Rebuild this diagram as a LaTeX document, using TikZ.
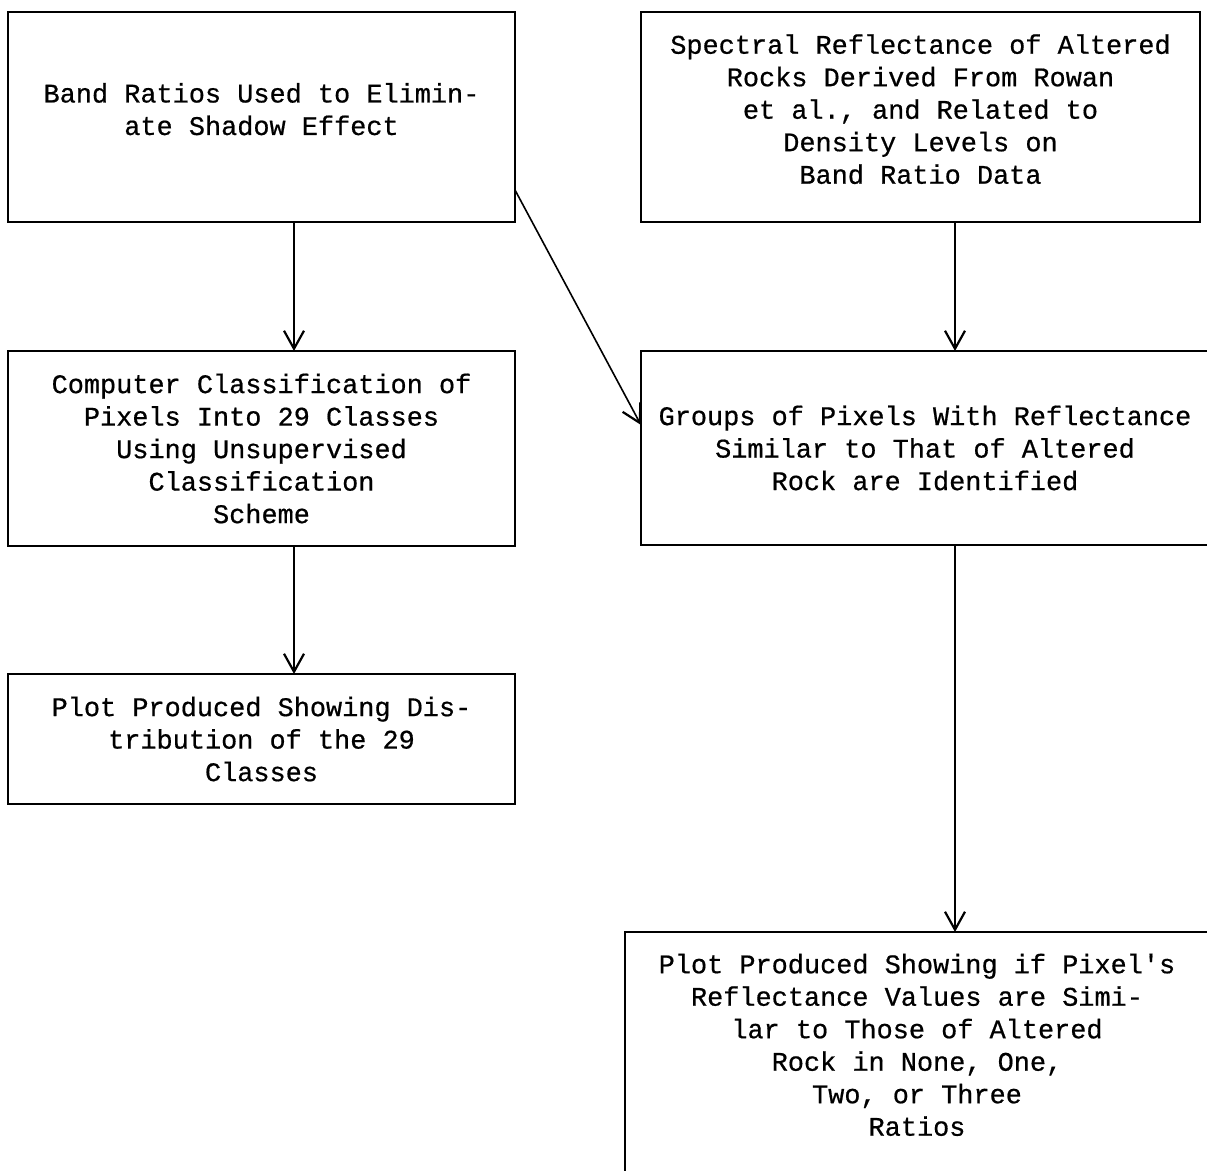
\documentclass[tikz,border=0pt]{standalone}
\usepackage{fontspec}
\newfontfamily\typewr[FakeBold=0.6]{Liberation Mono}
\usetikzlibrary{positioning,calc,arrows.meta}
\tikzset{
  flowpic/.style={
    x=0.5pt,y=-0.5pt
    ,inner sep=0pt
    ,outer sep=0pt
  }
  ,procbox/.style={draw=black,line width=1pt
    ,align=center
    ,font=\fontsize{13.45pt}{16.25pt}\selectfont\typewr
  }
  ,flow/.style={line width=.8pt
    ,-{Straight Barb[length=9pt,width=10pt,line width=1.1pt]}
  }
}

\begin{document}
\begin{tikzpicture}[flowpic]
  \clip (0,0) rectangle (1207,1171);
  % left column
  \node[procbox,minimum width=253.5pt,minimum height=105pt] (band) at (261.5,117)
    {Band Ratios Used to Elimin-\\ate Shadow Effect\\[-8.25pt]\mbox{}};
  \node[procbox,minimum width=253.5pt,minimum height=97.5pt] (comp) at (261.5,448.5)
    {Computer Classification of\\Pixels Into 29 Classes\\Using Unsupervised\\Classification\\Scheme};
  \node[procbox,minimum width=253.5pt,minimum height=65pt] (plotl) at (261.5,739)
    {Plot Produced Showing Dis-\\tribution of the 29\\Classes};
  % right column
  \node[procbox,minimum width=279.5pt,minimum height=105pt] (spec) at (920.5,117)
    {Spectral Reflectance of Altered\\Rocks Derived From Rowan\\et al., and Related to\\Density Levels on\\Band Ratio Data\\[-8.25pt]\mbox{}};
  \node[procbox,minimum width=284pt,minimum height=97pt] (groups) at (925,448)
    {Groups of Pixels With Reflectance\\Similar to That of Altered\\Rock are Identified};
  \node[procbox,minimum width=292pt,minimum height=129pt] (plotr) at (917,1061)
    {Plot Produced Showing if Pixel's\\Reflectance Values are Simi-\\lar to Those of Altered\\Rock in None, One,\\Two, or Three\\Ratios\\\mbox{}};
  % connectors
  \coordinate (lx) at (294,0);
  \coordinate (rx) at (955,0);
  \draw[flow] (band.south -| lx) -- (comp.north -| lx);
  \draw[flow] (comp.south -| lx) -- (plotl.north -| lx);
  \draw[flow] (spec.south -| rx) -- (groups.north -| rx);
  \draw[flow] (groups.south -| rx) -- (plotr.north -| rx);
  \draw[flow] ([yshift=16pt]band.south east) -- ([yshift=11.5pt]groups.west);
\end{tikzpicture}
\end{document}
